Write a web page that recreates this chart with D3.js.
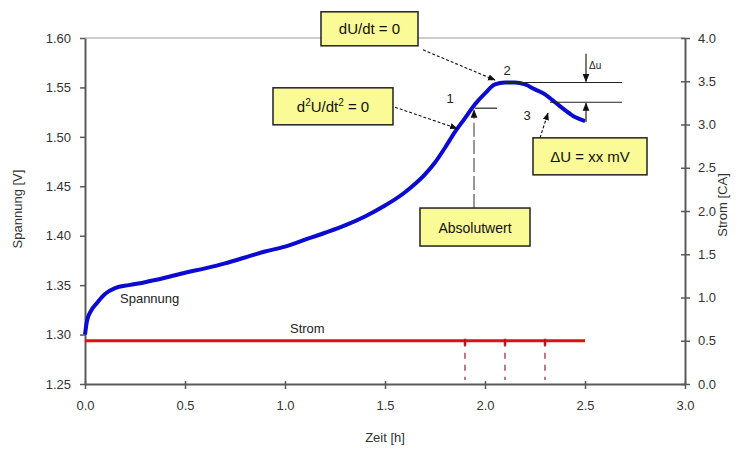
<!DOCTYPE html>
<html>
<head>
<meta charset="utf-8">
<script src="https://cdn.jsdelivr.net/npm/d3@7"></script>
<style>
  html, body { margin: 0; padding: 0; background: #fff; }
  svg { display: block; font-family: "Liberation Sans", Arial, sans-serif; }
</style>
</head>
<body>
<svg id="chart" width="744" height="449"></svg>
<script>
// Charging curve: voltage over time with constant charge current
const zeit = [0, 0.01, 0.03, 0.06, 0.1, 0.15, 0.22, 0.3, 0.4, 0.5, 0.6, 0.7, 0.8, 0.9, 1.0,
  1.1, 1.2, 1.3, 1.4, 1.5, 1.6, 1.7, 1.75, 1.8, 1.85, 1.9, 1.95, 2.0, 2.05, 2.1, 2.15,
  2.2, 2.25, 2.3, 2.35, 2.4, 2.45, 2.5];
const spannung = [1.300, 1.314, 1.324, 1.332, 1.341, 1.347, 1.350, 1.353, 1.3575, 1.3625,
  1.367, 1.372, 1.378, 1.384, 1.389, 1.396, 1.403, 1.4105, 1.4195, 1.4305, 1.444, 1.462,
  1.474, 1.489, 1.505, 1.519, 1.533, 1.544, 1.553, 1.555, 1.555, 1.553, 1.548, 1.543,
  1.535, 1.527, 1.520, 1.516];
const stromZeit = [0, 2.5];
const strom = [0.5, 0.5];
const markerZeit = [1.9, 2.1, 2.3];

const xTicks = [0, 0.5, 1.0, 1.5, 2.0, 2.5, 3.0];
const yTicks = [1.25, 1.30, 1.35, 1.40, 1.45, 1.50, 1.55, 1.60];
const y2Ticks = [0, 0.5, 1.0, 1.5, 2.0, 2.5, 3.0, 3.5, 4.0];

// Reference levels used in the annotation
const uMax = 1.555;     // point 2, dU/dt = 0
const uWende = 1.529;   // point 1, d2U/dt2 = 0
const uAbfall = 1.535;  // point 3, after the drop

const W = 744, H = 449;
const m = { left: 85, right: 59, top: 38, bottom: 65 };
const svg = d3.select("#chart");
svg.append("rect").attr("width", W).attr("height", H).attr("fill", "#fff");

const x = d3.scaleLinear().domain([0, 3]).range([m.left, W - m.right]);
const y = d3.scaleLinear().domain([1.25, 1.60]).range([H - m.bottom, m.top]);
const y2 = d3.scaleLinear().domain([0, 4]).range([H - m.bottom, m.top]);

const axisColor = "#5a5a5a";
const textColor = "#333";

// top frame line
svg.append("line")
  .attr("x1", x(0)).attr("x2", x(3)).attr("y1", y(1.60)).attr("y2", y(1.60))
  .attr("stroke", "#9a9a9a").attr("stroke-width", 1.2);

function styleAxis(g) {
  g.selectAll(".domain").attr("stroke", axisColor).attr("stroke-width", 2);
  g.selectAll(".tick line").attr("stroke", axisColor).attr("stroke-width", 1.5);
  g.selectAll(".tick text").attr("fill", textColor).style("font-size", "13px");
}

const fmt = d3.format(".2f");
const fmt1 = d3.format(".1f");

svg.append("g").attr("transform", `translate(0,${y(1.25)})`)
  .call(d3.axisBottom(x).tickValues(xTicks).tickFormat(fmt1).tickSizeOuter(0).tickSizeInner(5).tickPadding(12))
  .call(styleAxis)
  .call(g => g.selectAll(".tick line").attr("y1", -3));

svg.append("g").attr("transform", `translate(${x(0)},0)`)
  .call(d3.axisLeft(y).tickValues(yTicks).tickFormat(fmt).tickSizeOuter(0).tickSizeInner(5).tickPadding(9))
  .call(styleAxis);

svg.append("g").attr("transform", `translate(${x(3)},0)`)
  .call(d3.axisRight(y2).tickValues(y2Ticks).tickFormat(fmt1).tickSizeOuter(0).tickSizeInner(5).tickPadding(8))
  .call(styleAxis)
  .call(g => g.selectAll(".tick line").attr("x1", -4));

// axis titles
svg.append("text").attr("transform", `translate(22,${(m.top + H - m.bottom) / 2 - 2}) rotate(-90)`)
  .attr("text-anchor", "middle").attr("fill", textColor).style("font-size", "13px")
  .text("Spannung [V]");
svg.append("text").attr("transform", `translate(727,${(m.top + H - m.bottom) / 2 - 6}) rotate(-90)`)
  .attr("text-anchor", "middle").attr("fill", textColor).style("font-size", "13px")
  .text("Strom [CA]");
svg.append("text").attr("x", x(1.5)).attr("y", 442)
  .attr("text-anchor", "middle").attr("fill", textColor).style("font-size", "13px")
  .text("Zeit [h]");

// current: dashed markers down to the time axis
svg.selectAll(".marker").data(markerZeit).enter().append("line")
  .attr("x1", d => x(d)).attr("x2", d => x(d))
  .attr("y1", y2(strom[0])).attr("y2", y(1.25) - 4)
  .attr("stroke", "#b04a55").attr("stroke-width", 1.5).attr("stroke-dasharray", "6,6");

// current line
const stromLine = d3.line().x(d => x(d[0])).y(d => y2(d[1]));
svg.append("path").datum(stromZeit.map((t, i) => [t, strom[i]]))
  .attr("d", stromLine).attr("fill", "none")
  .attr("stroke", "#e01010").attr("stroke-width", 3);
svg.selectAll(".stub").data(markerZeit).enter().append("line")
  .attr("x1", d => x(d)).attr("x2", d => x(d))
  .attr("y1", y2(strom[0]) - 2).attr("y2", y2(strom[0]) + 5)
  .attr("stroke", "#d01010").attr("stroke-width", 2.5);

// voltage curve
const uLine = d3.line().x(d => x(d[0])).y(d => y(d[1])).curve(d3.curveMonotoneX);
svg.append("path").datum(zeit.map((t, i) => [t, spannung[i]]))
  .attr("d", uLine).attr("fill", "none")
  .attr("stroke", "#0a0ad0").attr("stroke-width", 4).attr("stroke-linejoin", "round");

// series labels
svg.append("text").attr("x", x(0.175)).attr("y", y(1.3315)).attr("fill", "#222")
  .style("font-size", "13px").text("Spannung");
svg.append("text").attr("x", x(1.025)).attr("y", y2(0.59)).attr("fill", "#222")
  .style("font-size", "13px").text("Strom");

// arrow markers
const defs = svg.append("defs");
defs.append("marker").attr("id", "arr").attr("viewBox", "0 0 10 10")
  .attr("refX", 9).attr("refY", 5).attr("markerWidth", 7).attr("markerHeight", 7)
  .attr("orient", "auto-start-reverse")
  .append("path").attr("d", "M0,1 L10,5 L0,9 Z").attr("fill", "#111");

// horizontal reference lines
const refLines = [
  { t0: 2.1, t1: 2.685, u: uMax },
  { t0: 2.325, t1: 2.685, u: uAbfall },
  { t0: 1.95, t1: 2.06, u: uWende }
];
svg.selectAll(".ref").data(refLines).enter().append("line")
  .attr("x1", d => x(d.t0)).attr("x2", d => x(d.t1))
  .attr("y1", d => y(d.u)).attr("y2", d => y(d.u))
  .attr("stroke", "#222").attr("stroke-width", 1.2);

// vertical line from point 1 down to "Absolutwert"
svg.append("line")
  .attr("x1", x(1.945)).attr("x2", x(1.945))
  .attr("y1", y(1.500)).attr("y2", y(uWende) + 2)
  .attr("stroke", "#555").attr("stroke-width", 1.2).attr("stroke-dasharray", "14,4")
  .attr("marker-end", "url(#arr)");
svg.append("line")
  .attr("x1", x(1.945)).attr("x2", x(1.945))
  .attr("y1", y(1.428)).attr("y2", y(1.500))
  .attr("stroke", "#555").attr("stroke-width", 1.2).attr("stroke-dasharray", "14,4");

// delta-U arrows
svg.append("line").attr("x1", x(2.505)).attr("x2", x(2.505))
  .attr("y1", y(1.584)).attr("y2", y(uMax) - 1)
  .attr("stroke", "#222").attr("stroke-width", 1.2).attr("marker-end", "url(#arr)");
svg.append("line").attr("x1", x(2.505)).attr("x2", x(2.505))
  .attr("y1", y(1.515)).attr("y2", y(uAbfall) + 1)
  .attr("stroke", "#222").attr("stroke-width", 1.2).attr("marker-end", "url(#arr)");
svg.append("text").attr("x", x(2.52)).attr("y", y(1.569)).attr("fill", "#222")
  .style("font-size", "10px").text("Δu");

// point numbers
const points = [
  { t: 1.825, u: 1.534, label: "1" },
  { t: 2.11, u: 1.563, label: "2" },
  { t: 2.21, u: 1.517, label: "3" }
];
svg.selectAll(".pt").data(points).enter().append("text")
  .attr("x", d => x(d.t)).attr("y", d => y(d.u)).attr("fill", "#222")
  .attr("text-anchor", "middle").style("font-size", "13px").text(d => d.label);

// leader arrows from the boxes to the curve
const leaders = [
  { t0: 1.69, u0: 1.5880, t1: 2.05, u1: 1.5575 },
  { t0: 1.55, u0: 1.5300, t1: 1.86, u1: 1.5085 },
  { t0: 2.275, u0: 1.4990, t1: 2.315, u1: 1.5240 }
];
svg.selectAll(".lead").data(leaders).enter().append("line")
  .attr("x1", d => x(d.t0)).attr("y1", d => y(d.u0))
  .attr("x2", d => x(d.t1)).attr("y2", d => y(d.u1))
  .attr("stroke", "#111").attr("stroke-width", 1.1).attr("stroke-dasharray", "3,2")
  .attr("marker-end", "url(#arr)");

// annotation boxes
const boxes = [
  { t: 1.18, u: 1.6265, w: 97, h: 34, kind: "d1" },
  { t: 0.94, u: 1.5496, w: 120, h: 37, kind: "d2" },
  { t: 1.675, u: 1.428, w: 110, h: 38, kind: "abs" },
  { t: 2.24, u: 1.499, w: 114, h: 37, kind: "du" }
];
const bg = svg.selectAll(".box").data(boxes).enter().append("g")
  .attr("transform", d => `translate(${x(d.t)},${y(d.u)})`);
bg.append("rect").attr("width", d => d.w).attr("height", d => d.h)
  .attr("fill", "#fafa96").attr("stroke", "#222").attr("stroke-width", 1.5);
bg.each(function(d) {
  const t = d3.select(this).append("text")
    .attr("x", d.w / 2).attr("y", d.h / 2 + 5.5)
    .attr("text-anchor", "middle").attr("fill", "#111")
    .style("font-size", "15px");
  if (d.kind === "d1") t.text("dU/dt = 0");
  if (d.kind === "abs") t.style("font-size", "14px").text("Absolutwert");
  if (d.kind === "du") t.text("ΔU = xx mV");
  if (d.kind === "d2") {
    t.append("tspan").text("d");
    t.append("tspan").attr("dy", -6).style("font-size", "10px").text("2");
    t.append("tspan").attr("dy", 6).text("U/dt");
    t.append("tspan").attr("dy", -6).style("font-size", "10px").text("2");
    t.append("tspan").attr("dy", 6).text(" = 0");
  }
});
</script>
</body>
</html>
